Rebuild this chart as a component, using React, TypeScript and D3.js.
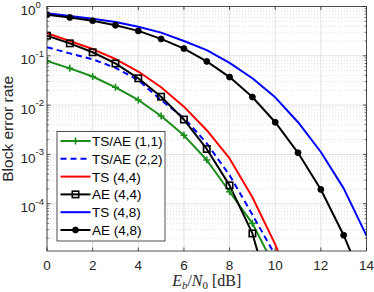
import React from 'react';
import * as d3 from 'd3';

// Eb/N0 points (dB)
const ebn0 = [0, 1, 2, 3, 4, 5, 6, 7, 8, 9, 10, 11, 12, 13, 14];

// block error rate per curve, starting at 0 dB
const tsae11 = [0.0785, 0.0557, 0.038, 0.023, 0.0127, 0.006, 0.00244, 7.7e-4, 1.75e-4, 4e-5, 5e-6];
const tsae22 = [0.149, 0.112, 0.085, 0.057, 0.032, 0.0126, 0.0055, 1.68e-3, 3.8e-4, 6e-5, 9e-6];
const ts44 = [0.286, 0.2, 0.137, 0.086, 0.048, 0.023, 0.0093, 0.0031, 8.3e-4, 1.35e-4, 1.5e-5, 1e-6];
const ae44 = [0.256, 0.179, 0.118, 0.07, 0.035, 0.0148, 0.0051, 0.00129, 2.36e-4, 2.5e-5, 6e-7];
const ts48 = [0.73, 0.64, 0.566, 0.485, 0.39, 0.295, 0.2, 0.13, 0.072, 0.035, 0.0144, 0.0045, 0.00112, 2.05e-4, 2.25e-5];
const ae48 = [0.68, 0.6, 0.515, 0.415, 0.32, 0.22, 0.14, 0.077, 0.037, 0.0146, 0.0045, 0.00108, 1.95e-4, 2.3e-5, 1.8e-6];

const xTicks = [0, 2, 4, 6, 8, 10, 12, 14];
const yExps = [0, -1, -2, -3, -4];
const legendNames = ['TS/AE (1,1)', 'TS/AE (2,2)', 'TS (4,4)', 'AE (4,4)', 'TS (4,8)', 'AE (4,8)'];

const W = 374, H = 292;
const margin = { left: 47, right: 7.5, top: 6.5, bottom: 41 };
const axisCol = '#262626';
const font = 'Liberation Sans, Arial, Helvetica, sans-serif';

const series = [
  { name: legendNames[0], vals: tsae11, color: '#1a8c1a', dash: null, marker: 'plus' },
  { name: legendNames[1], vals: tsae22, color: '#0000ff', dash: '6,4', marker: null },
  { name: legendNames[2], vals: ts44, color: '#ff0000', dash: null, marker: null },
  { name: legendNames[3], vals: ae44, color: '#000000', dash: null, marker: 'square' },
  { name: legendNames[4], vals: ts48, color: '#0000ff', dash: null, marker: null },
  { name: legendNames[5], vals: ae48, color: '#000000', dash: null, marker: 'circle' },
];

function Marker({ kind, x, y, color }: { kind: string | null; x: number; y: number; color: string }) {
  if (kind === 'plus') {
    return (
      <path d={`M${x - 3.5},${y}H${x + 3.5}M${x},${y - 3.5}V${y + 3.5}`} stroke={color} strokeWidth={1.6} />
    );
  }
  if (kind === 'square') {
    return <rect x={x - 3.2} y={y - 3.2} width={6.4} height={6.4} fill="none" stroke={color} strokeWidth={1.6} />;
  }
  if (kind === 'circle') {
    return <circle cx={x} cy={y} r={3} fill={color} stroke={color} strokeWidth={0.8} />;
  }
  return null;
}

export default function App() {
  const x = d3.scaleLinear().domain([0, 14]).range([margin.left, W - margin.right]);
  const y = d3.scaleLog().domain([1.1e-5, 1]).range([H - margin.bottom, margin.top]);
  const [x0, x1] = x.range();
  const [yb, yt] = y.range();

  const line = d3.line<number>()
    .x((_, i) => x(ebn0[i]))
    .y((d) => y(d));

  const minor: number[] = [];
  for (let e = -5; e < 0; e++) {
    for (let m = 2; m <= 9; m++) {
      const v = m * Math.pow(10, e);
      if (v > 1.1e-5 && v < 1) minor.push(v);
    }
  }

  const legX = 57, legY = 131.5, legW = 108, legH = 109.5;
  const rowH = 17.8;

  return (
    <svg width={W} height={H} style={{ position: 'absolute', left: 0, top: 0, background: '#fff' }}
      fontFamily={font}>
      <defs>
        <clipPath id="plotClip">
          <rect x={x0} y={yt} width={x1 - x0} height={yb - yt} />
        </clipPath>
      </defs>
      <rect x={x0} y={yt} width={x1 - x0} height={yb - yt} fill="#fff" />
      {/* minor grid */}
      {minor.map((v, i) => (
        <line key={'mg' + i} x1={x0} x2={x1} y1={y(v)} y2={y(v)} stroke="#c8c8c8" strokeWidth={0.6} strokeDasharray="1,2" />
      ))}
      {/* major grid */}
      {yExps.map((e) => (
        <line key={'yg' + e} x1={x0} x2={x1} y1={y(Math.pow(10, e))} y2={y(Math.pow(10, e))} stroke="#e3e3e3" strokeWidth={1} />
      ))}
      {xTicks.map((t) => (
        <line key={'xg' + t} x1={x(t)} x2={x(t)} y1={yt} y2={yb} stroke="#e3e3e3" strokeWidth={1} />
      ))}

      {/* curves */}
      <g clipPath="url(#plotClip)">
        {series.map((s, k) => (
          <path key={'c' + k} d={line(s.vals) || ''} fill="none" stroke={s.color} strokeWidth={2}
            strokeDasharray={s.dash || undefined} strokeLinejoin="round" />
        ))}
        {series.map((s, k) =>
          s.marker
            ? s.vals.map((v, i) =>
                v >= 1.1e-5 ? <Marker key={'m' + k + '-' + i} kind={s.marker} x={x(ebn0[i])} y={y(v)} color={s.color} /> : null)
            : null
        )}
      </g>

      {/* axes box and ticks */}
      <rect x={x0} y={yt} width={x1 - x0} height={yb - yt} fill="none" stroke={axisCol} strokeWidth={0.8} />
      {xTicks.map((t) => (
        <g key={'xt' + t}>
          <line x1={x(t)} x2={x(t)} y1={yb} y2={yb - 3.5} stroke={axisCol} strokeWidth={0.8} />
          <line x1={x(t)} x2={x(t)} y1={yt} y2={yt + 3.5} stroke={axisCol} strokeWidth={0.8} />
          <text x={x(t)} y={yb + 19} textAnchor="middle" fontSize={13.5} fill={axisCol}>{t}</text>
        </g>
      ))}
      {yExps.map((e) => {
        const yy = y(Math.pow(10, e));
        return (
          <g key={'yt' + e}>
            <line x1={x0} x2={x0 + 3.5} y1={yy} y2={yy} stroke={axisCol} strokeWidth={0.8} />
            <line x1={x1} x2={x1 - 3.5} y1={yy} y2={yy} stroke={axisCol} strokeWidth={0.8} />
            <text x={20.5} y={yy + 8.5} fontSize={13.5} fill={axisCol}>
              10<tspan dy={-7.5} fontSize={9.5}>{e}</tspan>
            </text>
          </g>
        );
      })}
      {minor.map((v, i) => (
        <g key={'mt' + i}>
          <line x1={x0} x2={x0 + 2} y1={y(v)} y2={y(v)} stroke={axisCol} strokeWidth={0.6} />
          <line x1={x1} x2={x1 - 2} y1={y(v)} y2={y(v)} stroke={axisCol} strokeWidth={0.6} />
        </g>
      ))}

      {/* axis labels */}
      <text transform={`translate(12.5,${(yt + yb) / 2}) rotate(-90)`} textAnchor="middle" fontSize={15.5} fill={axisCol}>
        Block error rate
      </text>
      <text x={(x0 + x1) / 2} y={H - 6} textAnchor="middle" fontSize={16} fill={axisCol}
        fontFamily="Liberation Serif, Times New Roman, serif">
        <tspan fontStyle="italic">E</tspan>
        <tspan fontStyle="italic" fontSize={11} dy={3}>b</tspan>
        <tspan dy={-3}>/</tspan>
        <tspan fontStyle="italic">N</tspan>
        <tspan fontSize={11} dy={3}>0</tspan>
        <tspan dy={-3}> [dB]</tspan>
      </text>

      {/* legend */}
      <rect x={legX} y={legY} width={legW} height={legH} fill="#fff" stroke={axisCol} strokeWidth={0.8} />
      {series.map((s, k) => {
        const ly = legY + 9.5 + k * rowH;
        return (
          <g key={'lg' + k}>
            <line x1={legX + 3.5} x2={legX + 33.5} y1={ly} y2={ly} stroke={s.color} strokeWidth={2}
              strokeDasharray={s.dash || undefined} />
            <Marker kind={s.marker} x={legX + 18.5} y={ly} color={s.color} />
            <text x={legX + 35} y={ly + 5} fontSize={13.5} fill="#000">{s.name}</text>
          </g>
        );
      })}
    </svg>
  );
}
